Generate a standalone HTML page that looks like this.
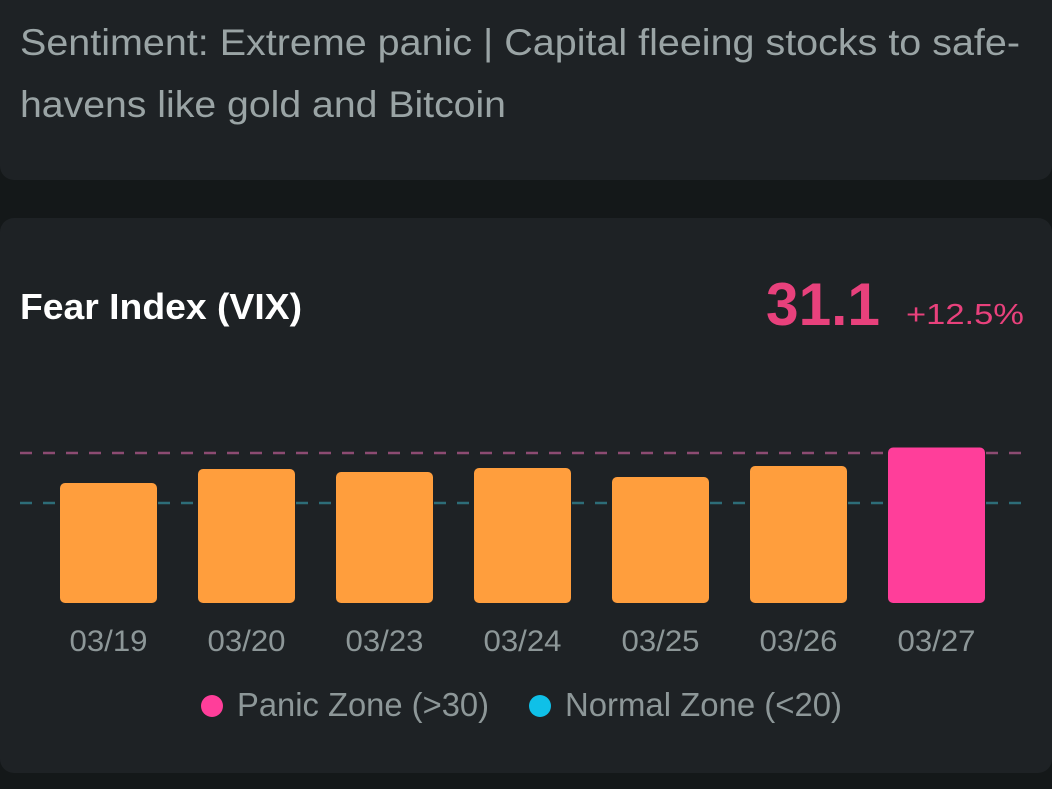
<!DOCTYPE html>
<html><head><meta charset="utf-8"><style>
html,body{margin:0;padding:0;background:#141819;}
svg{display:block;font-family:"Liberation Sans",sans-serif;}
</style></head><body>
<svg id="c" width="1052" height="789" viewBox="0 0 1052 789">
<rect x="0" y="0" width="1052" height="789" fill="#141819"/>
<rect x="0" y="-20" width="1052" height="200" rx="14" fill="#1e2225"/>
<text x="20" y="55" font-size="37" fill="#9aa4a5" textLength="1000" lengthAdjust="spacingAndGlyphs">Sentiment: Extreme panic | Capital fleeing stocks to safe-</text>
<text x="20" y="117" font-size="37" fill="#9aa4a5" textLength="486" lengthAdjust="spacingAndGlyphs">havens like gold and Bitcoin</text>
<rect x="0" y="218" width="1052" height="555" rx="14" fill="#1e2225"/>
<text x="20" y="319" font-size="36" font-weight="bold" fill="#ffffff" textLength="282" lengthAdjust="spacingAndGlyphs">Fear Index (VIX)</text>
<text x="766" y="325" font-size="60" font-weight="bold" fill="#e8417c" textLength="114" lengthAdjust="spacingAndGlyphs">31.1</text>
<text x="906" y="324" font-size="29" fill="#e8417c" textLength="118" lengthAdjust="spacingAndGlyphs">+12.5%</text>
<g id="plot"></g>
<circle cx="212" cy="706" r="11" fill="#ff3e9a"/>
<text x="237" y="716" font-size="33" fill="#8d9798" textLength="252" lengthAdjust="spacingAndGlyphs">Panic Zone (&gt;30)</text>
<circle cx="540" cy="706" r="11" fill="#0fc0e8"/>
<text x="565" y="716" font-size="33" fill="#8d9798" textLength="277" lengthAdjust="spacingAndGlyphs">Normal Zone (&lt;20)</text>
</svg>
<script>
const categories = ["03/19","03/20","03/23","03/24","03/25","03/26","03/27"];
const values = [24.0, 26.8, 26.2, 27.0, 25.2, 27.4, 31.1];
const panicThreshold = [30];
const normalThreshold = [20];
const NS = "http://www.w3.org/2000/svg";
const g = document.getElementById("plot");
const baseY = 603, pxPerUnit = 5, x0 = 60, step = 138, bw = 97;
function y(v){ return baseY - v * pxPerUnit; }
function x(i){ return x0 + i * step; }
function mk(tag, attrs){ const e = document.createElementNS(NS, tag); for (const k in attrs) e.setAttribute(k, attrs[k]); g.appendChild(e); return e; }
const pl = mk("line", {x1:20, x2:1024, y1:y(panicThreshold[0]), y2:y(panicThreshold[0]), stroke:"#8c4b72", "stroke-width":2.5, "stroke-dasharray":"12 11"});


const nl = mk("line", {x1:20, x2:1024, y1:y(normalThreshold[0]), y2:y(normalThreshold[0]), stroke:"#2d6d78", "stroke-width":2.5, "stroke-dasharray":"12 11"});


values.forEach((v, i) => {
  const color = v > panicThreshold[0] ? "#ff3e9a" : "#ff9e3d";
  const b = mk("rect", {x:x(i), y:y(v), width:bw, height:baseY - y(v), rx:5, fill:color});
  
  
  const t = mk("text", {x:x(i) + bw/2, y:651, "font-size":30, fill:"#8d9798", "text-anchor":"middle", textLength:78, lengthAdjust:"spacingAndGlyphs"});
  t.textContent = categories[i];
  
  
});
</script>
</body></html>
